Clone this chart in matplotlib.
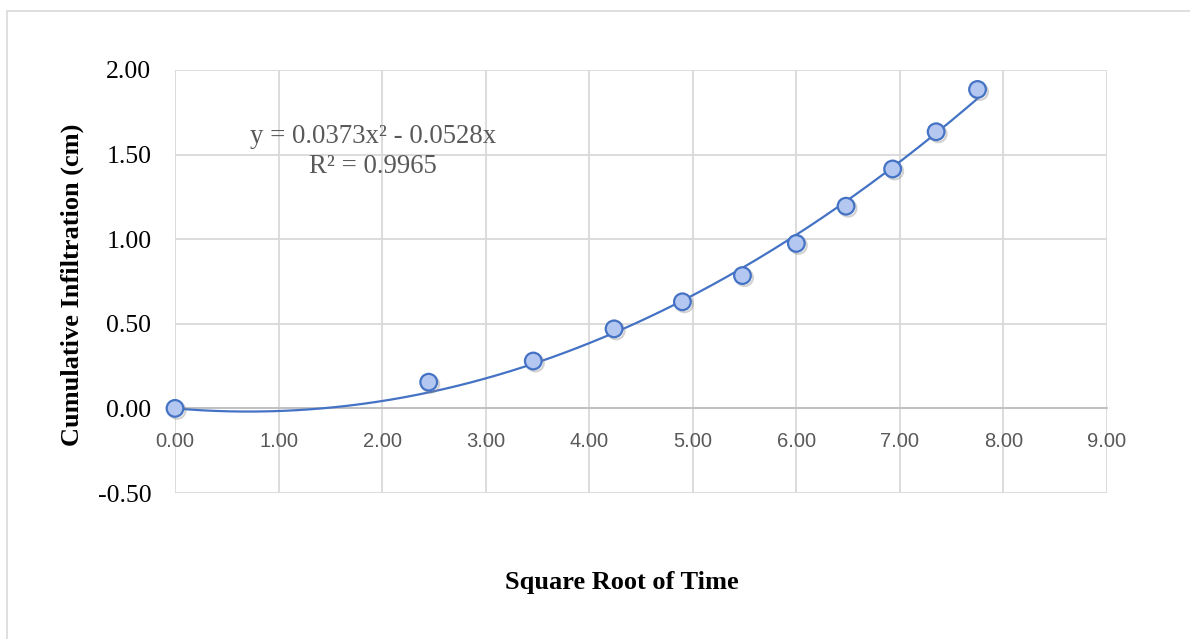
import numpy as np
import matplotlib
matplotlib.use("Agg")
import matplotlib.pyplot as plt
from matplotlib.patches import Rectangle
import matplotlib.patheffects as pe

# ---- data ----
sqrt_time = [0.00, 2.45, 3.46, 4.24, 4.90, 5.48, 6.00, 6.48, 6.93, 7.35, 7.75]
cum_infil = [0.00, 0.155, 0.28, 0.47, 0.63, 0.785, 0.975, 1.195, 1.415, 1.635, 1.885]
trend_a = 0.0373   # x^2 coefficient
trend_b = -0.0528  # x coefficient
eq_text = "y = 0.0373x² - 0.0528x\nR² = 0.9965"
x_ticks = [0, 1, 2, 3, 4, 5, 6, 7, 8, 9]
y_ticks = [-0.5, 0.0, 0.5, 1.0, 1.5, 2.0]

W, H = 1190, 639
fig = plt.figure(figsize=(W / 100, H / 100), dpi=100)
fig.patch.set_facecolor("white")

# outer chart frame
fig.patches.append(Rectangle((7 / W, -0.05), 1.2, 1 - 11 / H + 0.05,
                             transform=fig.transFigure, fill=False,
                             edgecolor="#d9d9d9", lw=1.2))

ax = fig.add_axes([175 / W, 1 - 493 / H, (1107 - 175) / W, (493 - 70) / H])
for s in ["top", "right", "left"]:
    ax.spines[s].set_visible(False)
ax.spines["bottom"].set_position(("data", 0))
ax.spines["bottom"].set_color("#bfbfbf")
ax.spines["bottom"].set_linewidth(1.3)

ax.set_xlim(0, 9)
ax.set_ylim(-0.5, 2.0)
ax.set_xticks(x_ticks)
ax.set_yticks(y_ticks)
ax.set_xticklabels([f"{v:.2f}" for v in x_ticks], fontfamily="Liberation Sans",
                   fontsize=14.5, color="#595959")
ax.set_yticklabels([f"{v:.2f}" for v in y_ticks], fontfamily="Liberation Serif",
                   fontsize=18.5, color="black")
ax.tick_params(axis="x", length=0, pad=17)
ax.tick_params(axis="y", length=0, pad=17)
ax.grid(True, color="#d9d9d9", lw=1.3)
ax.set_axisbelow(True)

# trendline
xs = np.linspace(0, max(sqrt_time), 300)
ax.plot(xs, trend_a * xs ** 2 + trend_b * xs, color="#4472c4", lw=1.6, zorder=3)

# points
ax.plot(sqrt_time, cum_infil, linestyle="none", marker="o", markersize=12,
        markerfacecolor="#b4c7f0", markeredgecolor="#4472c4", markeredgewidth=1.6,
        zorder=4, clip_on=False,
        path_effects=[pe.SimpleLineShadow(offset=(1.5, -1.5), shadow_color="gray", alpha=0.35),
                      pe.Normal()])

ax.text(1.91, 1.52, eq_text, ha="center", va="center", multialignment="center",
        fontfamily="Liberation Serif", fontsize=19.3, color="#595959", zorder=5,
        linespacing=1.25)

fig.text(622 / W, 1 - 582 / H, "Square Root of Time", ha="center", va="center",
         fontfamily="Liberation Serif", fontweight="bold", fontsize=19)
fig.text(72 / W, 1 - 285 / H, "Cumulative Infiltration (cm)", ha="center", va="center",
         rotation=90, fontfamily="Liberation Serif", fontweight="bold", fontsize=19)

fig.savefig("out.png", dpi=100)
